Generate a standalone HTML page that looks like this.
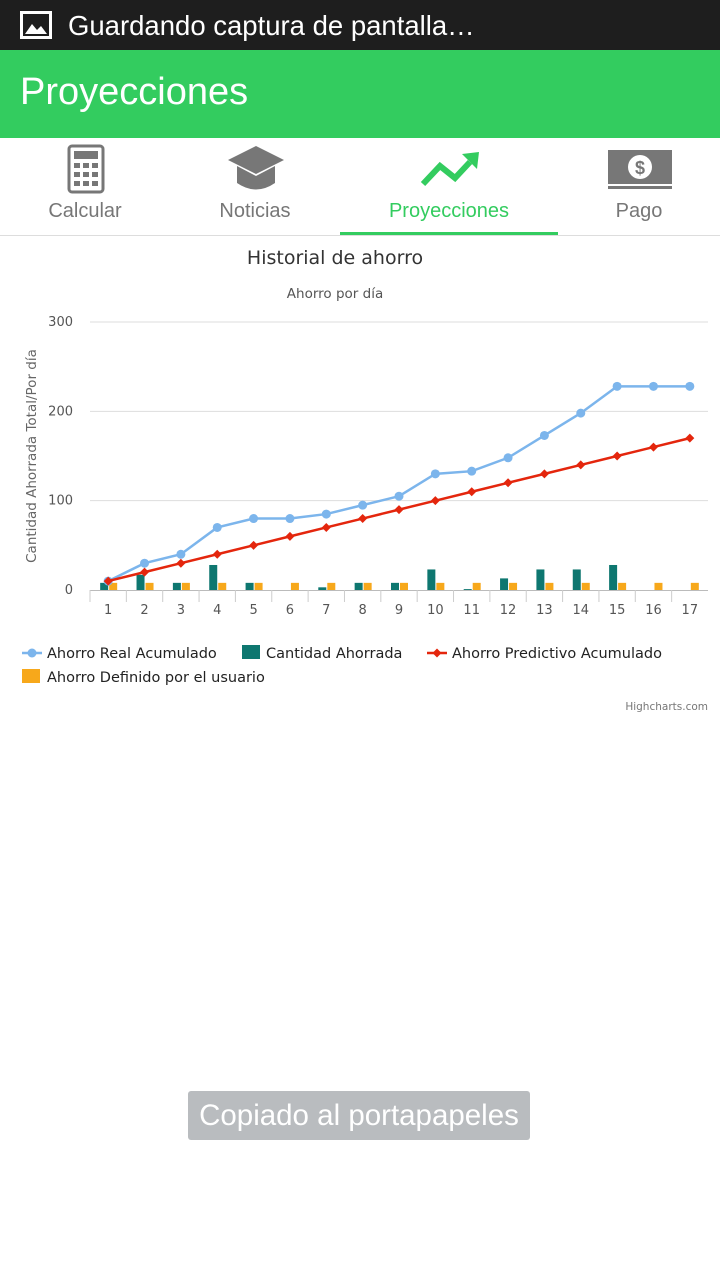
<!DOCTYPE html>
<html><head><meta charset="utf-8"><style>
body{margin:0;width:720px;height:1280px;background:#fff;font-family:"Liberation Sans","DejaVu Sans",sans-serif;position:relative;overflow:hidden}
.status{position:absolute;left:0;top:0;width:720px;height:50px;background:#1e1e1e;color:#fff;font-size:27.5px}
.appbar{position:absolute;left:0;top:50px;width:720px;height:88px;background:#33cc5f;color:#fff;font-size:38px}
.tab{position:absolute;top:200px;font-size:20px;color:#777;text-align:center;width:170px}
#chart text{font-family:"DejaVu Sans","Liberation Sans",sans-serif}
</style></head><body>
<div class="status">
<svg width="32" height="28" style="position:absolute;left:20px;top:11px"><rect x="1.5" y="1.5" width="29" height="25" fill="none" stroke="#fff" stroke-width="3"/><path d="M5 23 L12 13 L17 19 L21 15 L27 23Z" fill="#fff"/></svg>
<span style="position:absolute;left:68px;top:10px">Guardando captura de pantalla…</span></div>
<div class="appbar"><span style="position:absolute;left:20px;top:21px">Proyecciones</span></div>
<svg width="720" height="100" style="position:absolute;left:0;top:138px">
<rect x="69" y="8" width="34" height="46" rx="3" fill="none" stroke="#777" stroke-width="3"/><rect x="74" y="13" width="24" height="8" fill="#777"/>
<g fill="#777"><rect x="74" y="25" width="6" height="5"/><rect x="83" y="25" width="6" height="5"/><rect x="92" y="25" width="6" height="5"/><rect x="74" y="34" width="6" height="5"/><rect x="83" y="34" width="6" height="5"/><rect x="92" y="34" width="6" height="5"/><rect x="74" y="43" width="6" height="5"/><rect x="83" y="43" width="6" height="5"/><rect x="92" y="43" width="6" height="5"/></g>
<path d="M228 22 L256 8 L284 22 L256 36Z" fill="#777"/><path d="M237 28 L237 45 Q256 58 275 45 L275 28 L256 38Z" fill="#777"/>
<path d="M423 46 L440 28 L455 40 L470 24" fill="none" stroke="#33cc5f" stroke-width="6"/><path d="M462 16 L479 14 L477 31Z" fill="#33cc5f"/>
<rect x="608" y="12" width="64" height="34" fill="#777"/><circle cx="640" cy="29" r="12" fill="#fff"/><text x="640" y="36" font-size="18" text-anchor="middle" fill="#777" font-weight="bold">$</text><rect x="608" y="48" width="64" height="3" fill="#777"/>
<rect x="340" y="94" width="218" height="4" fill="#33cc5f"/><rect x="0" y="97" width="720" height="1" fill="#ddd"/>
</svg>
<div class="tab" style="left:0">Calcular</div>
<div class="tab" style="left:170px">Noticias</div>
<div class="tab" style="left:364px;color:#33cc5f">Proyecciones</div>
<div class="tab" style="left:554px">Pago</div>
<svg id="chart" width="720" height="480" style="position:absolute;left:0;top:238px"></svg>
<div style="position:absolute;left:188px;top:1091px;width:342px;height:49px;background:#b9bcbf;color:#fff;font-size:29.5px;text-align:center;line-height:49px;border-radius:3px;white-space:nowrap">Copiado al portapapeles</div>
<script>
const categories=["1","2","3","4","5","6","7","8","9","10","11","12","13","14","15","16","17"];
const realAccum=[10,30,40,70,80,80,85,95,105,130,133,148,173,198,228,228,228];
const predictive=[10,20,30,40,50,60,70,80,90,100,110,120,130,140,150,160,170];
const saved=[8,17,8,28,8,0,3,8,8,23,1,13,23,23,28,0,0];
const userDefined=[8,8,8,8,8,8,8,8,8,8,8,8,8,8,8,8,8];
const yTicks=[0,100,200,300];
const NS="http://www.w3.org/2000/svg",svg=document.getElementById('chart');
const X0=90,X1=708,Y0=352,Y300=84;
const bw=(X1-X0)/categories.length;
const xc=i=>X0+bw*(i+0.5);
const y=v=>Y0-(v/300)*(Y0-Y300);
function el(t,a,txt){const e=document.createElementNS(NS,t);for(const k in a)e.setAttribute(k,a[k]);if(txt!=null)e.textContent=txt;svg.appendChild(e);return e;}
let e;
e=el('text',{x:335,y:26,'font-size':19,'text-anchor':'middle',fill:'#333'},'Historial de ahorro');

e=el('text',{x:335,y:60,'font-size':13.5,'text-anchor':'middle',fill:'#555'},'Ahorro por día');

e=el('text',{x:36,y:218,'font-size':13.5,'text-anchor':'middle',fill:'#666',transform:'rotate(-90 36 218)'},'Cantidad Ahorrada Total/Por día');

yTicks.forEach(t=>{
 if(t>0){e=el('line',{x1:X0,x2:X1,y1:y(t),y2:y(t),stroke:'#ddd'});}
 e=el('text',{x:73,y:y(t)+4,'font-size':13,'text-anchor':'end',fill:'#555'},t);
 
});
e=el('line',{x1:X0,x2:X1,y1:Y0+0.5,y2:Y0+0.5,stroke:'#bbb'});
categories.forEach((c,i)=>{
 e=el('line',{x1:X0+bw*i,x2:X0+bw*i,y1:Y0,y2:Y0+12,stroke:'#ccc'});
 e=el('text',{x:xc(i),y:Y0+24,'font-size':13,'text-anchor':'middle',fill:'#555'},c);
 
 e=el('rect',{x:xc(i)-8,y:y(saved[i]),width:8,height:Y0-y(saved[i]),fill:'#0e7770'});
 
 e=el('rect',{x:xc(i)+1,y:y(userDefined[i]),width:8,height:Y0-y(userDefined[i]),fill:'#f7a81b'});
 
});
e=el('polyline',{points:realAccum.map((v,i)=>xc(i)+','+y(v)).join(' '),fill:'none',stroke:'#7cb5ec','stroke-width':2.5});

realAccum.forEach((v,i)=>{e=el('circle',{cx:xc(i),cy:y(v),r:4.5,fill:'#7cb5ec'});});
e=el('polyline',{points:predictive.map((v,i)=>xc(i)+','+y(v)).join(' '),fill:'none',stroke:'#e4260d','stroke-width':2.5});

predictive.forEach((v,i)=>{const cx=xc(i),cy=y(v);e=el('path',{d:`M${cx} ${cy-4.5}L${cx+4.5} ${cy}L${cx} ${cy+4.5}L${cx-4.5} ${cy}Z`,fill:'#e4260d'});});
// legend
e=el('line',{x1:22,x2:42,y1:415,y2:415,stroke:'#7cb5ec','stroke-width':2.5});
e=el('circle',{cx:32,cy:415,r:4.5,fill:'#7cb5ec'});
e=el('text',{x:47,y:420,'font-size':14.5,fill:'#222'},'Ahorro Real Acumulado');
e=el('rect',{x:242,y:407,width:18,height:14,fill:'#0e7770'});
e=el('text',{x:266,y:420,'font-size':14.5,fill:'#222'},'Cantidad Ahorrada');
e=el('line',{x1:427,x2:447,y1:415,y2:415,stroke:'#e4260d','stroke-width':2.5});
e=el('path',{d:'M437 410.5L441.5 415L437 419.5L432.5 415Z',fill:'#e4260d'});
e=el('text',{x:452,y:420,'font-size':14.5,fill:'#222'},'Ahorro Predictivo Acumulado');
e=el('rect',{x:22,y:431,width:18,height:14,fill:'#f7a81b'});
e=el('text',{x:47,y:444,'font-size':14.5,fill:'#222'},'Ahorro Definido por el usuario');
e=el('text',{x:708,y:472,'font-size':10.5,'text-anchor':'end',fill:'#777'},'Highcharts.com');
</script>
</body></html>
